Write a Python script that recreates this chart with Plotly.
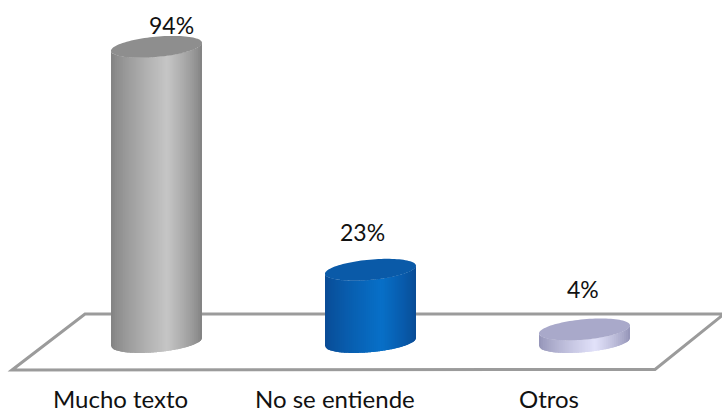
import numpy as np
import plotly.graph_objects as go

categories = ["Mucho texto", "No se entiende", "Otros"]
values = [94, 23, 4]
value_labels = ["94%", "23%", "4%"]

# styling
edge_colors = [(132, 132, 132), (10, 76, 150), (150, 150, 185)]
light_colors = [(198, 198, 198), (8, 112, 200), (226, 226, 250)]
cap_colors = ["#8e8e8e", "#0a5aa8", "#a9a9ca"]
label_shift = [(15, 22), (-8, 38), (-2, 40)]

W, H = 722, 413
PX_PER_UNIT = 3.14
BASE_PX = 342
AXIS_PX = 382
CAT_PX = 214
FIRST_PX = 156.5
HALF_W = 45.5
MINOR = 10.2
TILT = 8 / 91
STRIPS = 45
LABEL_OFFSET = -36 / CAT_PX

fig = go.Figure()


def shade(edge, light, t):
    peak = 0.62
    f = t / peak if t < peak else (1 - t) / (1 - peak)
    f = f ** 0.8
    return "rgb(%d,%d,%d)" % tuple(e + (l - e) * f for e, l in zip(edge, light))


for i, (v, edge, light, cap) in enumerate(zip(values, edge_colors, light_colors, cap_colors)):
    edges = np.linspace(-HALF_W, HALF_W, STRIPS + 1)
    for j in range(STRIPS):
        right = edges[min(j + 2, STRIPS)]
        d = np.linspace(edges[j], right, 5)
        front = (TILT * d - MINOR * np.sqrt(np.clip(1 - (d / HALF_W) ** 2, 0, 1))) / PX_PER_UNIT
        xs = np.r_[d, d[::-1]] / CAT_PX + i
        ys = np.r_[v + front, front[::-1]]
        c = shade(edge, light, j / (STRIPS - 1))
        fig.add_trace(go.Scatter(x=xs, y=ys, mode="none", fill="toself", fillcolor=c,
                                 hoverinfo="skip", showlegend=False))
    th = np.linspace(0, 2 * np.pi, 100)
    d = HALF_W * np.cos(th)
    yy = (TILT * d + MINOR * np.sin(th)) / PX_PER_UNIT + v
    fig.add_trace(go.Scatter(x=d / CAT_PX + i, y=yy, mode="none", fill="toself", fillcolor=cap,
                             hoverinfo="skip", showlegend=False))

annotations = [
    dict(x=i, y=v, xref="x", yref="y", text=t, showarrow=False, xshift=dx, yshift=dy,
         font=dict(family="Lato", size=23, color="#111111"))
    for i, (v, t, (dx, dy)) in enumerate(zip(values, value_labels, label_shift))
] + [
    dict(x=i + LABEL_OFFSET, y=0, xref="x", yref="paper", text=t, showarrow=False, yshift=-16,
         yanchor="middle", borderpad=0, font=dict(family="Lato", size=24, color="#111111"))
    for i, t in enumerate(categories)
]


def px(x):
    return x / W


def py(y):
    return (AXIS_PX - y) / AXIS_PX


floor = [(12, 370), (85, 314), (724, 314), (655, 369.5)]
path = "M " + " L ".join(f"{px(a):.4f},{py(b):.4f}" for a, b in floor) + " Z"

fig.update_layout(
    width=W, height=H,
    margin=dict(l=0, r=0, t=0, b=H - AXIS_PX),
    paper_bgcolor="white", plot_bgcolor="white",
    showlegend=False,
    annotations=annotations,
    shapes=[dict(type="path", path=path, xref="paper", yref="paper",
                 line=dict(color="#9b9b9b", width=3), layer="below")],
    xaxis=dict(range=[-FIRST_PX / CAT_PX, (W - FIRST_PX) / CAT_PX],
               showticklabels=False, ticks="", automargin=False,
               showgrid=False, zeroline=False, showline=False),
    yaxis=dict(range=[(BASE_PX - AXIS_PX) / PX_PER_UNIT, BASE_PX / PX_PER_UNIT],
               visible=False, showgrid=False, zeroline=False),
)
fig.write_html("out.html", config={"displayModeBar": False},
               post_script="document.body.style.margin='0';document.body.style.overflow='hidden';")
